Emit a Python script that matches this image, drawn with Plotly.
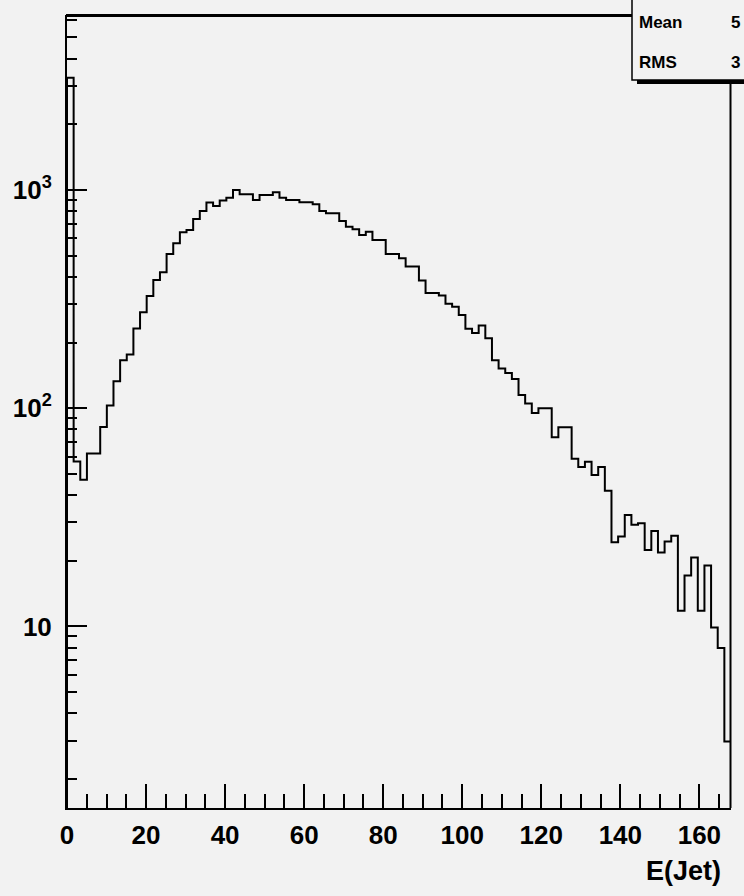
import numpy as np
import plotly.graph_objects as go

# ---------------- data ----------------
x_min, x_max, n_bins = 0.0, 168.0, 100
counts = [
    3270, 57, 47, 62, 62, 82, 103, 133, 166, 176,
    232, 275, 327, 387, 420, 509, 570, 640, 656, 736,
    801, 875, 845, 894, 922, 1000, 955, 955, 900, 949,
    949, 976, 922, 900, 900, 878, 878, 860, 801, 782,
    782, 721, 679, 661, 622, 644, 590, 590, 509, 509,
    487, 446, 446, 385, 337, 337, 328, 301, 292, 267,
    231, 221, 239, 209, 166, 152, 145, 136, 115, 105,
    95, 100, 100, 73.6, 81.8, 81.8, 58.6, 53.7, 56.9, 49.4,
    53.7, 41.8, 24.3, 25.8, 32.4, 29.2, 29.7, 22.4, 27.4, 21.8,
    24.5, 26.0, 11.8, 17.1, 20.7, 11.8, 19.0, 9.9, 7.96, 2.97,
]
y_tick_vals = [10, 100, 1000]
y_tick_text = ["10", "10<sup>2</sup>", "10<sup>3</sup>"]
x_title = "E(Jet)"
stat_names = ["Mean", "RMS"]
stat_values = ["5", "3"]   # only the leading digits are visible at the page edge

# ---------------- figure ----------------
BG = "#f2f2f2"
W, H = 744, 896
L, R, T, B = 67, 731, 15, 808

def px(x):
    return (x - L) / (R - L)

def py(y):
    return (B - y) / (B - T)

edges = np.linspace(x_min, x_max, n_bins + 1)
floor_val = 1.0
xs = [edges[0]] + list(edges) + [edges[-1]]
ys = [floor_val] + list(counts) + [counts[-1], floor_val]

fig = go.Figure()
fig.add_trace(go.Scatter(
    x=xs, y=ys, mode="lines", line=dict(shape="hv", color="black", width=2),
    hoverinfo="skip", showlegend=False,
))

minor_vals = [m * 10 ** e for e in range(0, 4) for m in range(2, 10)]

font_fam = "Liberation Sans, Arial, sans-serif"
fig.update_layout(
    width=W, height=H,
    margin=dict(l=L, r=W - R, t=T, b=H - B, pad=0),
    paper_bgcolor=BG, plot_bgcolor=BG,
    showlegend=False,
    xaxis=dict(
        range=[x_min, x_max], showgrid=False, zeroline=False,
        showline=True, linecolor="black", linewidth=2,
        ticks="inside", ticklen=24, tickwidth=2, tickcolor="black",
        tickmode="linear", tick0=0, dtick=20,
        minor=dict(ticks="inside", ticklen=14, tickwidth=2, tickcolor="black", dtick=5, tick0=0, showgrid=False),
        tickfont=dict(family=font_fam, size=26, color="black", weight="bold"),
        ticklabelstandoff=3,
    ),
    yaxis=dict(
        type="log", range=[0.168, 3.8017], showgrid=False, zeroline=False,
        showline=True, linecolor="black", linewidth=2,
        ticks="inside", ticklen=20, tickwidth=2, tickcolor="black",
        tickmode="array", tickvals=y_tick_vals, ticktext=y_tick_text,
        minor=dict(ticks="inside", ticklen=10, tickwidth=2, tickcolor="black",
                   tickmode="array", tickvals=minor_vals, showgrid=False),
        tickfont=dict(family=font_fam, size=26, color="black", weight="bold"),
        ticklabelstandoff=8,
    ),
)

shapes = [
    dict(type="line", xref="paper", yref="paper", x0=px(L - 1), x1=px(632), y0=py(15.5), y1=py(15.5),
         line=dict(color="black", width=3)),
    dict(type="line", xref="paper", yref="paper", x0=px(730.5), x1=px(730.5), y0=py(83), y1=py(B),
         line=dict(color="black", width=2)),
    dict(type="rect", xref="paper", yref="paper", x0=px(637), x1=px(770), y0=py(84), y1=py(78),
         fillcolor="black", line=dict(width=0), layer="above"),
    dict(type="rect", xref="paper", yref="paper", x0=px(632), x1=px(770), y0=py(80), y1=py(-10),
         fillcolor=BG, line=dict(color="black", width=1.5), layer="above"),
]
fig.update_layout(shapes=shapes)

annotations = [
    dict(text=x_title, xref="paper", yref="paper", x=px(723), y=py(871), xanchor="right", yanchor="middle",
         showarrow=False, font=dict(family=font_fam, size=27, color="black", weight="bold")),
]
for name, val, yy in zip(stat_names, stat_values, [23, 62]):
    annotations.append(dict(text=name, xref="paper", yref="paper", x=px(637), y=py(yy), xanchor="left",
                            yanchor="middle", showarrow=False,
                            font=dict(family=font_fam, size=17, color="black", weight="bold")))
    annotations.append(dict(text=val, xref="paper", yref="paper", x=px(729), y=py(yy), xanchor="left",
                            yanchor="middle", showarrow=False,
                            font=dict(family=font_fam, size=17, color="black", weight="bold")))
fig.update_layout(annotations=annotations)

fig.write_html("out.html", config=dict(displayModeBar=False),
               post_script="document.body.style.margin='0';document.body.style.overflow='hidden';")
